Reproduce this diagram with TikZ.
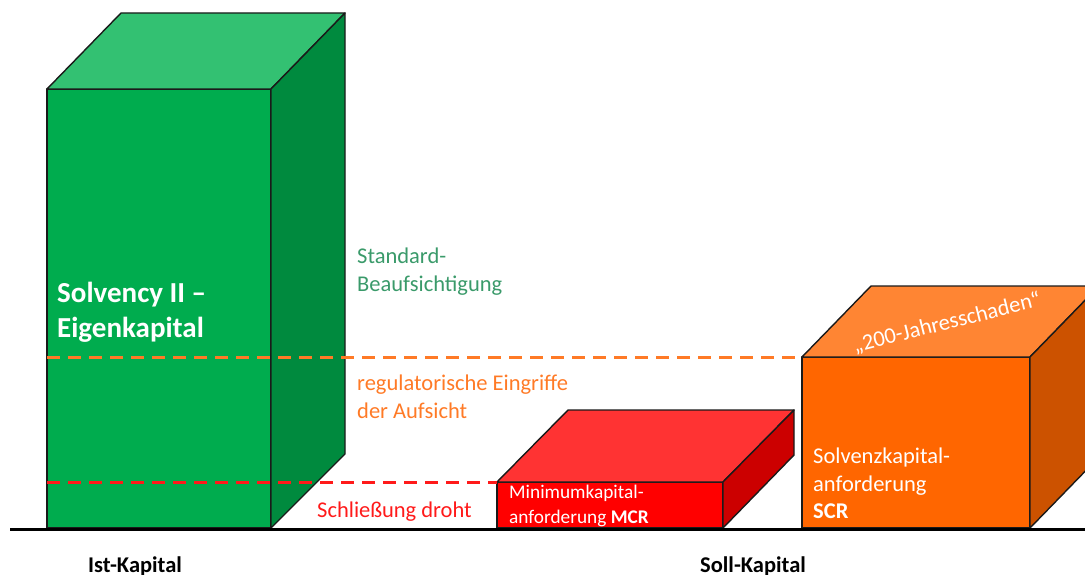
\documentclass[tikz,border=0pt]{standalone}
\usepackage{fontspec}
\setmainfont{Carlito}
\definecolor{gfront}{HTML}{00AC4E}
\definecolor{gtop}{HTML}{33C172}
\definecolor{gside}{HTML}{008A3E}
\definecolor{rfront}{HTML}{FF0000}
\definecolor{rtop}{HTML}{FF3333}
\definecolor{rside}{HTML}{CC0000}
\definecolor{ofront}{HTML}{FF6600}
\definecolor{otop}{HTML}{FF8533}
\definecolor{oside}{HTML}{CC5200}
\definecolor{gtext}{HTML}{3A9A6A}
\definecolor{otext}{HTML}{FF7A26}
\definecolor{rtext}{HTML}{FF1A1A}
\definecolor{edge}{HTML}{1A1A1A}
\begin{document}
\begin{tikzpicture}[x=1pt,y=-1pt,
  face/.style={draw=edge,line width=1.4pt,line join=round},
  lvl/.style={line width=3pt,dash pattern=on 13pt off 8pt},
  lbl/.style={inner sep=0pt,anchor=base west,font=\fontsize{22.5}{28}\selectfont},
  boxlbl/.style={lbl,text=white},
  axislbl/.style={inner sep=0pt,anchor=base,font=\fontsize{22.5}{28}\selectfont\bfseries}]
\useasboundingbox (0,0) rectangle (1085,575);
\clip (0,0) rectangle (1085,575);
% green box
\fill[face,fill=gfront] (47,89) rectangle (271,528);
\fill[face,fill=gtop] (47,89) -- (121,13) -- (345,13) -- (271,89) -- cycle;
\fill[face,fill=gside] (271,89) -- (345,13) -- (345,454) -- (271,528) -- cycle;
% red box
\fill[face,fill=rfront] (497,482) rectangle (723,528);
\fill[face,fill=rtop] (497,482) -- (568,410) -- (794,410) -- (723,482) -- cycle;
\fill[face,fill=rside] (723,482) -- (794,410) -- (794,455) -- (723,528) -- cycle;
% orange box
\fill[face,fill=ofront] (802,357) rectangle (1030,528);
\fill[face,fill=otop] (802,357) -- (871,286) -- (1099,286) -- (1030,357) -- cycle;
\fill[face,fill=oside] (1030,357) -- (1099,286) -- (1099,457) -- (1030,528) -- cycle;
% level lines
\coordinate (oL) at (47,357);
\coordinate (oR) at (797,357);
\coordinate (rL) at (47,482);
\coordinate (rR) at (497,482);
\draw[lvl,draw=otext] (oL) -- (oR);
\draw[lvl,draw=rtext] (rL) -- (rR);
% ground
\coordinate (g0) at (10,529);
\coordinate (g1) at (1090,529);
\draw[line width=3pt] (g0) -- (g1);
% labels
\node[boxlbl,font=\fontsize{29}{35}\selectfont\bfseries] (t1) at (57,302) {Solvency II –};
\node[boxlbl,font=\fontsize{29}{35}\selectfont\bfseries] (t2) at (57,337) {Eigenkapital};
\node[lbl,text=gtext] (s1) at (357,263) {Standard-};
\node[lbl,text=gtext] (s2) at (357,291) {Beaufsichtigung};
\node[lbl,text=otext] (r1) at (357,390) {regulatorische Eingriffe};
\node[lbl,text=otext] (r2) at (357,418) {der Aufsicht};
\node[lbl,text=rtext] (c1) at (317,517) {Schließung droht};
\node[boxlbl,font=\fontsize{19.3}{25}\selectfont] (m1) at (509,498) {Minimumkapital-};
\node[boxlbl,font=\fontsize{19.3}{25}\selectfont] (m2) at (509,523) {anforderung \textbf{MCR}};
\node[boxlbl] (o1) at (813,463) {Solvenzkapital-};
\node[boxlbl] (o2) at (813,491) {anforderung};
\node[boxlbl,font=\fontsize{22.5}{28}\selectfont\bfseries] (o3) at (813,518) {SCR};
\node[inner sep=0pt,text=white,rotate=14,font=\fontsize{22.5}{28}\selectfont] (j) at (947,323) {„200-Jahresschaden“};
\node[axislbl] (ist) at (135,572) {Ist-Kapital};
\node[axislbl] (soll) at (753,572) {Soll-Kapital};
\end{tikzpicture}
\end{document}
